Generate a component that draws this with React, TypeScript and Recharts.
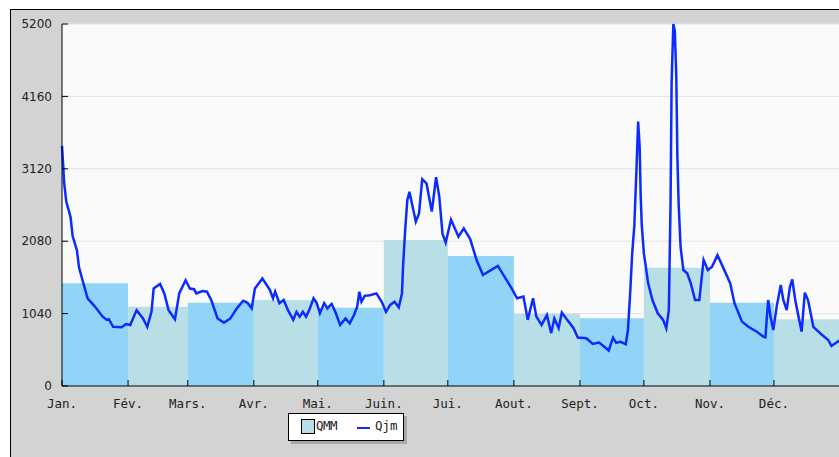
import React from 'react';
import { ComposedChart, Line, XAxis, YAxis, CartesianGrid, ReferenceArea } from 'recharts';

const monthLabels = ['Jan.', 'Fév.', 'Mars.', 'Avr.', 'Mai.', 'Juin.', 'Jui.', 'Aout.', 'Sept.', 'Oct.', 'Nov.', 'Déc.'];
const monthStarts = [0, 31, 59, 90, 120, 151, 181, 212, 243, 273, 304, 334, 365];
const qmm = [1475, 1139, 1197, 1235, 1125, 2097, 1867, 1034, 972, 1700, 1197, 958];
const yTicks = [0, 1040, 2080, 3120, 4160, 5200];

const days = [
  0, 0.6, 1, 2, 4, 5, 7, 8, 10, 12, 14, 16, 19, 21, 22, 24, 28, 30, 32, 35, 38, 40, 42, 43, 46, 48, 50, 53, 55, 58,
  60, 62, 63, 66, 68, 70, 73, 76, 79, 82, 85, 87, 89, 90.5, 94, 97.5, 99, 100, 102, 104, 106, 108.5, 110, 111.5, 113,
  114.5, 116, 118, 119.5, 121, 123, 124.5, 126.5, 128.5, 130.5, 133, 135, 137, 138.5, 139.5, 140.5, 142, 144.5, 147.5,
  150, 152, 154, 156, 158, 159.5, 160, 161, 162, 163, 164.5, 166, 167.5, 169, 171, 173.5, 175.5, 177, 178.5, 180,
  182.5, 186, 188.5, 191.5, 194.5, 197.5, 201, 204.5, 208, 211, 213.5, 216.5, 218.5, 221, 222.5, 225, 227.5, 229.5,
  231, 233, 234.5, 237, 240, 242, 246, 249, 252, 254, 256.5, 258.5, 260, 262, 264.5, 265.5, 266.5, 267.5, 268.5,
  269.5, 270.3, 271, 271.5, 272, 273, 275, 277, 279.5, 282, 283.5, 284.7, 285.5, 286, 286.8, 287.5, 288.2, 288.7,
  289.3, 290.2, 291.5, 293.3, 295, 297, 299, 301, 303, 305, 307.5, 310, 313.5, 315.5, 319, 322, 326, 329, 330,
  331.3, 332.4, 333.7, 335.3, 337.2, 338.4, 340, 341.5, 342.6, 344, 346, 347, 348.5, 350, 352.5, 356.5, 359.5, 361,
  364, 365,
];
const qjm = [
  3450, 3150, 2920, 2650, 2430, 2150, 1950, 1700, 1480, 1260, 1190, 1120, 1000, 950, 960, 850, 845, 890, 875, 1090,
  970, 850, 1070, 1400, 1465, 1330, 1090, 960, 1330, 1520, 1400, 1390, 1330, 1365, 1355, 1235, 970, 910, 970, 1115,
  1225, 1195, 1115, 1400, 1545, 1380, 1260, 1355, 1190, 1235, 1090, 950, 1065, 995, 1065, 995, 1090, 1260, 1190,
  1045, 1190, 1115, 1180, 1045, 875, 970, 900, 1020, 1140, 1355, 1210, 1295, 1305, 1330, 1210, 1065, 1165, 1210,
  1130, 1330, 1715, 2240, 2670, 2790, 2575, 2360, 2480, 2970, 2910, 2505, 3000, 2720, 2190, 2060, 2390, 2145, 2265,
  2110, 1810, 1595, 1660, 1725, 1550, 1400, 1260, 1285, 950, 1260, 1000, 875, 1020, 760, 970, 830, 1055, 950, 830,
  695, 685, 605, 625, 575, 510, 695, 620, 635, 600, 800, 1300, 1900, 2300, 3100, 3800, 3440, 2720, 2310, 1905, 1475,
  1235, 1045, 950, 830, 1090, 2620, 4350, 5200, 5100, 4450, 3300, 2620, 2000, 1665, 1620, 1475, 1235, 1235, 1810,
  1665, 1715, 1880, 1715, 1475, 1190, 925, 850, 780, 710, 700, 1235, 995, 805, 1140, 1450, 1235, 1090, 1425, 1530,
  1235, 925, 780, 1340, 1235, 850, 735, 660, 575, 640, 660,
];

const data = days.map((d, i) => ({ day: d, qjm: qjm[i] }));

const darkFill = '#91d4f8';
const lightFill = '#b8dee6';
const lineColor = '#0b2cff';

export default function App() {
  return (
    <div style={{ position: 'fixed', left: 0, top: 0, width: 839, height: 457, overflow: 'hidden', background: '#ffffff' }}>
      <div
        style={{
          position: 'absolute',
          left: 10,
          top: 9,
          width: 860,
          height: 480,
          borderLeft: '1px solid #000',
          borderTop: '1px solid #000',
          background: '#d3d3d3',
        }}
      />
      <div style={{ position: 'absolute', left: 0, top: 0 }}>
        <ComposedChart width={845} height={457} data={data} margin={{ top: 24, right: 5, bottom: 41, left: 10 }}>
          <CartesianGrid horizontal={true} vertical={false} fill="#fafafa" stroke="#e2e2e2" />
          {qmm.map((v, i) => (
            <ReferenceArea
              key={i}
              x1={monthStarts[i]}
              x2={monthStarts[i + 1]}
              y1={0}
              y2={v}
              fill={i % 2 === 0 ? darkFill : lightFill}
              fillOpacity={1}
              stroke="none"
              ifOverflow="extendDomain"
            />
          ))}
          <XAxis
            dataKey="day"
            type="number"
            domain={[0, 365]}
            ticks={monthStarts.slice(0, 12)}
            tickFormatter={(v: number) => monthLabels[monthStarts.indexOf(v)] ?? ''}
            interval={0}
            height={30}
            tickSize={-6}
            tickMargin={19}
            axisLine={{ stroke: '#000' }}
            tickLine={{ stroke: '#000' }}
            tick={{ fill: '#222', fontFamily: 'DejaVu Sans Mono', fontSize: 12.5 }}
          />
          <YAxis
            type="number"
            domain={[0, 5200]}
            ticks={yTicks}
            interval={0}
            width={52}
            tickSize={-6}
            tickMargin={16}
            axisLine={{ stroke: '#000' }}
            tickLine={{ stroke: '#000' }}
            tick={{ fill: '#222', fontFamily: 'DejaVu Sans', fontSize: 12 }}
          />
          <Line
            type="linear"
            dataKey="qjm"
            stroke={lineColor}
            strokeWidth={2.5}
            dot={false}
            isAnimationActive={false}
          />
        </ComposedChart>
      </div>
      <div
        style={{
          position: 'absolute',
          left: 288,
          top: 413,
          width: 114,
          height: 26,
          background: '#fff',
          border: '1px solid #000',
          boxShadow: '3px 3px 0 #a8a8a8',
          fontFamily: 'DejaVu Sans Mono',
          fontSize: 12.5,
          color: '#222',
        }}
      >
        <div
          style={{
            position: 'absolute',
            left: 12,
            top: 5,
            width: 12,
            height: 13,
            background: lightFill,
            border: '1px solid #000',
          }}
        />
        <span style={{ position: 'absolute', left: 27, top: 4, letterSpacing: -0.5 }}>QMM</span>
        <div style={{ position: 'absolute', left: 68, top: 13, width: 13, height: 2, background: lineColor }} />
        <span style={{ position: 'absolute', left: 86, top: 4 }}>Qjm</span>
      </div>
    </div>
  );
}
